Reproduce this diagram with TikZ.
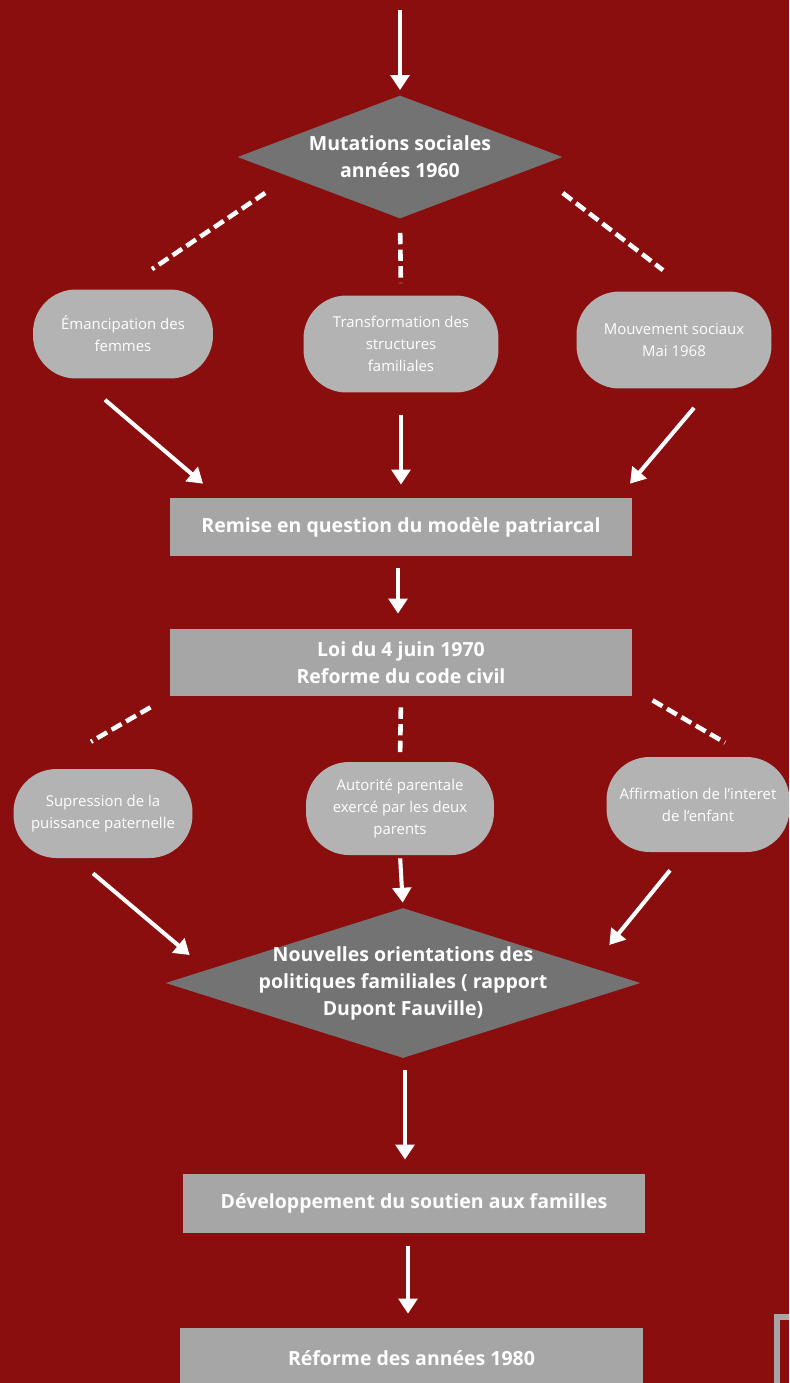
\documentclass[tikz,border=0pt]{standalone}
\usepackage{fontspec}
\setmainfont{Open Sans}
\usetikzlibrary{shapes.geometric,arrows.meta,calc}

\definecolor{bgred}{RGB}{138,14,14}
\definecolor{darkgrey}{RGB}{115,115,115}
\definecolor{midgrey}{RGB}{166,166,166}
\definecolor{lightgrey}{RGB}{179,179,179}

\begin{document}
\begin{tikzpicture}[
    x=0.02cm,y=-0.02cm,
    every node/.style={text=white, align=center},
    headtext/.style={font=\bfseries\fontsize{11.1}{15.4}\selectfont},
    decision/.style={diamond, fill=darkgrey, inner sep=0pt},
    stepbox/.style={rectangle, fill=midgrey, minimum width=9.25cm, headtext},
    pill/.style={rectangle, rounded corners=0.86cm, fill=lightgrey, inner sep=2pt, font=\fontsize{8.5}{12.5}\selectfont},
    arrow/.style={draw=white, line width=2.3pt, -{Triangle[length=8.5pt,width=10.5pt]}},
    link/.style={draw=white, line width=2.6pt, dash pattern=on 6.5pt off 3pt}
]
    \clip (0,0) rectangle (789,1383);
    \fill[bgred] (0,0) rectangle (789,1383);

    % first level
    \coordinate (in) at (400,10);
    \node[decision, minimum width=6.5cm, minimum height=2.46cm,
          label={[headtext]center:Mutations sociales\\années 1960}] (m1) at (400,157) {};

    \node[pill, minimum width=3.6cm, minimum height=1.78cm] (A) at (123,334) {Émancipation des\\femmes};
    \node[pill, minimum width=3.9cm, minimum height=1.94cm] (B) at (401,344) {Transformation des\\structures\\familiales};
    \node[pill, minimum width=3.9cm, minimum height=1.94cm] (C) at (674,340) {Mouvement sociaux\\Mai 1968};

    \node[stepbox, minimum height=1.16cm] (r1) at (401,527) {Remise en question du modèle patriarcal};
    \node[stepbox, minimum height=1.34cm] (r2) at (401,662.5) {Loi du 4 juin 1970\\Reforme du code civil};

    % second level
    \node[pill, minimum width=3.58cm, minimum height=1.78cm] (D) at (103,813.5) {Supression de la\\puissance paternelle};
    \node[pill, minimum width=3.76cm, minimum height=1.86cm] (E) at (400,808.5) {Autorité parentale\\exercé par les deux\\parents};
    \node[pill, minimum width=3.66cm, minimum height=1.9cm] (F) at (698,804.5) {Affirmation de l’interet\\de l’enfant};

    \node[decision, minimum width=9.5cm, minimum height=3cm,
          label={[headtext]center:Nouvelles orientations des\\politiques familiales ( rapport\\Dupont Fauville)}] (m2) at (403,983) {};

    \node[stepbox, minimum height=1.18cm] (r3) at (414,1203.5) {Développement du soutien aux familles};
    \node[stepbox, minimum height=1.2cm] (r4) at (411.5,1358) {Réforme des années 1980};

    % connectors
    \draw[arrow, shorten >=0.1cm] (in) -- (m1.north);
    \draw[link] ($(m1.west)+(28,36)$) -- ($(A.north)+(29,-20)$);
    \draw[link, shorten <=0.28cm, shorten >=0.24cm] (m1.south) -- (B.north);
    \draw[link] ($(m1.east)+(0,36)$) -- ($(C.north)+(-11,-21)$);

    \draw[arrow] ($(A.south)+(-18,21)$) -- ($(r1.north)+(-198,-14)$);
    \draw[arrow, shorten <=0.44cm, shorten >=0.26cm] (B.south) -- (r1.north);
    \draw[arrow] ($(C.south)+(20,19)$) -- ($(r1.north)+(229,-14)$);
    \draw[arrow, shorten <=0.24cm, shorten >=0.3cm] ($(r1.south)+(-3,0)$) -- ($(r2.north)+(-3,0)$);

    \draw[link] ($(r2.south west)+(-19,11)$) -- ($(D.north)+(-12,-27)$);
    \draw[link, shorten <=0.22cm, shorten >=0.12cm] (r2.south) -- (E.north);
    \draw[link] ($(r2.south east)+(20,4)$) -- ($(F.north)+(27,-14)$);

    \draw[arrow] ($(D.south)+(-10,15)$) -- ($(m2.west)+(24.5,-28)$);
    \draw[arrow, shorten <=0.06cm, shorten >=0.1cm] (E.south) -- (m2.north);
    \draw[arrow] ($(F.south)+(-28,18)$) -- ($(m2.east)+(-31.5,-38)$);

    \draw[arrow] ($(m2.south)+(2,12)$) -- ($(r3.north)+(-9,-14)$);
    \draw[arrow] ($(r3.south)+(-6,13)$) -- ($(r4.north)+(-3.5,-14)$);

    % frame corner at the lower right
    \draw[midgrey, line width=3pt] (777,1400) |- (800,1317);
\end{tikzpicture}
\end{document}
